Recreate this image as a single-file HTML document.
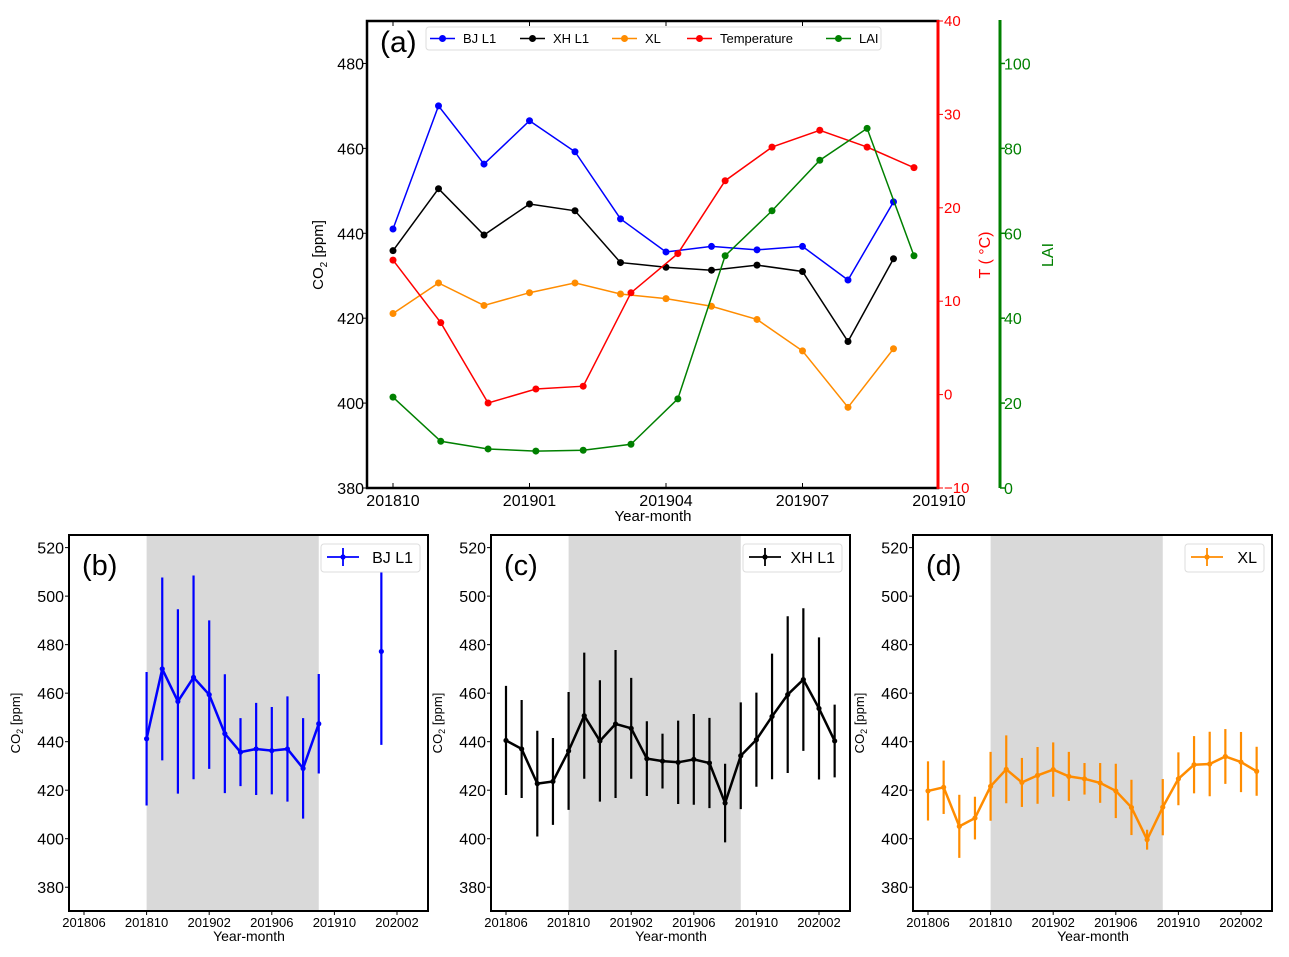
<!DOCTYPE html>
<html><head><meta charset="utf-8"><style>
html,body{margin:0;padding:0;background:#fff;}
svg{display:block;font-family:"Liberation Sans","DejaVu Sans",sans-serif;}
</style></head><body>
<svg id="chart" width="1289" height="957" viewBox="0 0 1289 957" xmlns="http://www.w3.org/2000/svg"></svg>
<script>
// ---- Panel (a) data ----
const aMonths = [0,1,2,3,4,5,6,7,8,9,10,11];
const aTickLabels = ["201810","201901","201904","201907","201910"];
const aTickMonths = [0,3,6,9,12];
const bjA = [441,470,456.3,466.5,459.2,443.4,435.6,436.9,436.1,436.9,429,447.4];
const xhA = [435.9,450.5,439.6,446.9,445.3,433.1,432,431.3,432.5,431,414.5,434];
const xlA = [421.1,428.3,423,426,428.3,425.7,424.6,422.8,419.7,412.3,399,412.8];
const envMonths = [0,1.05,2.09,3.14,4.18,5.23,6.26,7.3,8.33,9.38,10.42,11.45];
const tempA = [14.4,7.7,-0.9,0.6,0.9,10.9,15.1,22.9,26.5,28.3,26.5,24.3];
const laiA = [21.4,11,9.2,8.7,8.9,10.3,21,54.7,65.3,77.2,84.7,54.7];
const co2Ticks = [380,400,420,440,460,480];
const tTicks = [-10,0,10,20,30,40];
const laiTicks = [0,20,40,60,80,100];
// ---- Bottom panels data (months from 201806) ----
const bTickLabels = ["201806","201810","201902","201906","201910","202002"];
const bTickMonths = [0,4,8,12,16,20];
const bYTicks = [380,400,420,440,460,480,500,520];
const bjMonths = [4,5,6,7,8,9,10,11,12,13,14,15,19];
const bjVals = [441.2,470,456.6,466.5,459.4,443.3,435.7,437,436.3,437,429,447.4,477.2];
const bjErr = [27.5,37.7,38,42,30.6,24.5,14,19,18,21.7,20.7,20.5,38.5];
const fullMonths = [0,1,2,3,4,5,6,7,8,9,10,11,12,13,14,15,16,17,18,19,20,21];
const xhVals = [440.5,437,422.7,423.6,436.2,450.7,440.3,447.3,445.5,433,432,431.5,432.7,431.2,414.7,434.2,440.8,450.4,459.4,465.6,453.7,440.3];
const xhErr = [22.5,20.2,21.8,17.9,24.3,26,25,30.5,20.8,15.4,11.3,17.2,18.7,18.6,16.2,22,19.4,25.9,32.3,29.4,29.3,15];
const xlVals = [419.7,421.2,405.1,408.5,421.6,428.6,423.2,426.1,428.5,425.7,424.7,423,419.7,412.9,399.6,413,424.7,430.5,430.8,433.9,431.6,427.8];
const xlErr = [12.2,11,13,8.8,14.2,14,10.1,11.7,11.2,10.1,6.5,8.2,11.2,11.4,4.1,11.6,10.9,11.8,13.3,11.3,12.4,10.1];
const shadeRange = [4,15];

const NS="http://www.w3.org/2000/svg";
const svg=document.getElementById('chart');
function mk(tag,attrs,parent,text){const e=document.createElementNS(NS,tag);for(const k in attrs)e.setAttribute(k,attrs[k]);if(text!==undefined)e.textContent=text;(parent||svg).appendChild(e);return e;}

// ===== Panel (a) =====
const A={l:367,r:938,t:21,b:488};
const ax=m=>393+45.5*m;
const ayC=v=>A.b-(v-380)/110*(A.b-A.t);
const ayT=v=>A.b-(v+10)/50*(A.b-A.t);
const ayL=v=>A.b-v/110*(A.b-A.t);
const gA=mk('g',{});


aTickMonths.forEach((m,i)=>{
  const x=ax(m);
  mk('line',{x1:x,x2:x,y1:A.b,y2:A.b-5,stroke:'#000','stroke-width':1},gA);
  mk('line',{x1:x,x2:x,y1:A.t,y2:A.t+5,stroke:'#000','stroke-width':1},gA);
  const t=mk('text',{x:x,y:A.b+18,'font-size':16,'text-anchor':'middle'},gA,aTickLabels[i]);
  
  
});
co2Ticks.forEach(v=>{
  const y=ayC(v);
  mk('line',{x1:A.l,x2:A.l-5,y1:y,y2:y,stroke:'#000','stroke-width':1},gA);
  const t=mk('text',{x:A.l-3,y:y+6,'font-size':16,'text-anchor':'end'},gA,String(v));
  
  
});
tTicks.forEach(v=>{
  const y=ayT(v);
  mk('line',{x1:A.r,x2:A.r+5,y1:y,y2:y,stroke:'red','stroke-width':1},gA);
  const t=mk('text',{x:A.r+6,y:y+5,'font-size':15,fill:'red'},gA,v<0?'\u2212'+Math.abs(v):String(v));
  
  
});
laiTicks.forEach(v=>{
  const y=ayL(v);
  mk('line',{x1:1000,x2:1005,y1:y,y2:y,stroke:'green','stroke-width':1.5},gA);
  const t=mk('text',{x:1004,y:y+6,'font-size':16,fill:'green'},gA,String(v));
  
  
});
mk('line',{x1:1000,x2:1000,y1:A.t-1,y2:A.b,stroke:'green','stroke-width':3},gA);
mk('rect',{x:A.l,y:A.t,width:A.r-A.l,height:A.b-A.t,fill:'none',stroke:'#000','stroke-width':2.5},gA);
mk('line',{x1:A.r,x2:A.r,y1:A.t-1,y2:A.b+1,stroke:'red','stroke-width':3},gA);
function seriesA(xs,vals,yf,color,name){
  const g=mk('g',{},gA);
  
  
  mk('polyline',{points:xs.map((m,i)=>ax(m)+','+yf(vals[i])).join(' '),fill:'none',stroke:color,'stroke-width':1.5},g);
  xs.forEach((m,i)=>{const c=mk('circle',{cx:ax(m),cy:yf(vals[i]),r:3.5,fill:color},g);
    
    });
}
seriesA(aMonths,bjA,ayC,'#0000ff','bj-l1-series');
seriesA(aMonths,xhA,ayC,'#000000','xh-l1-series');
seriesA(aMonths,xlA,ayC,'#ff8c00','xl-series');
seriesA(envMonths,tempA,ayT,'#ff0000','temperature-series');
seriesA(envMonths,laiA,ayL,'#008000','lai-series');
let t;
t=mk('text',{x:380,y:52,'font-size':30},gA,'(a)');
t=mk('text',{x:653,y:521,'font-size':15,'text-anchor':'middle'},gA,'Year-month');
t=mk('text',{x:0,y:0,'font-size':15,'text-anchor':'middle',transform:'translate(323,255) rotate(-90)'},gA);
t.innerHTML='CO<tspan font-size="10" dy="4">2</tspan><tspan dy="-4"> [ppm]</tspan>';

t=mk('text',{x:0,y:0,'font-size':16,fill:'red','text-anchor':'middle',transform:'translate(990,255) rotate(-90)'},gA,'T ( \u00B0C)');

t=mk('text',{x:0,y:0,'font-size':16,fill:'green','text-anchor':'middle',transform:'translate(1053,255) rotate(-90)'},gA,'LAI');

const lg=mk('g',{},gA);


mk('rect',{x:426,y:27,width:455,height:23,rx:3,fill:'#fff',stroke:'#ddd','stroke-width':1},lg);
const legItems=[['BJ L1','#0000ff',430],['XH L1','#000',520],['XL','#ff8c00',612],['Temperature','#ff0000',687],['LAI','#008000',826]];
legItems.forEach(([lab,c,x])=>{
  const e=mk('g',{},lg);
  
  
  mk('line',{x1:x,x2:x+25,y1:38.5,y2:38.5,stroke:c,'stroke-width':1.5},e);
  mk('circle',{cx:x+12.5,cy:38.5,r:3.5,fill:c},e);
  mk('text',{x:x+33,y:43,'font-size':13},e,lab);
});

// ===== Bottom panels =====
function panel(left,key,label,months,vals,errs,color,legText){
  const P={l:left,r:left+359,t:535,b:911};
  const x=m=>P.l+15+m*15.65;
  const y=v=>P.t+(525.2-v)/155*(P.b-P.t);
  const g=mk('g',{});
  
  
  const sh=mk('rect',{x:x(shadeRange[0]),y:P.t,width:x(shadeRange[1])-x(shadeRange[0]),height:P.b-P.t,fill:'#d9d9d9'},g);
  
  
  bTickMonths.forEach((m,i)=>{
    mk('line',{x1:x(m),x2:x(m),y1:P.b,y2:P.b+4,stroke:'#000','stroke-width':1},g);
    const tt=mk('text',{x:x(m),y:P.b+16,'font-size':13,'text-anchor':'middle'},g,bTickLabels[i]);
    
    
  });
  bYTicks.forEach(v=>{
    mk('line',{x1:P.l,x2:P.l-4,y1:y(v),y2:y(v),stroke:'#000','stroke-width':1},g);
    const tt=mk('text',{x:P.l-5,y:y(v)+6,'font-size':16,'text-anchor':'end'},g,String(v));
    
    
  });
  months.forEach((m,i)=>{
    const e=mk('line',{x1:x(m),x2:x(m),y1:Math.max(P.t,y(vals[i]+errs[i])),y2:Math.min(P.b,y(vals[i]-errs[i])),stroke:color,'stroke-width':2.2},g);
    
    
  });
  let seg=[];
  const segs=[];
  months.forEach((m,i)=>{ if(i>0 && m-months[i-1]>1){segs.push(seg);seg=[];} seg.push(x(m)+','+y(vals[i])); });
  segs.push(seg);
  segs.forEach(s=>{ if(s.length>1){const pl=mk('polyline',{points:s.join(' '),fill:'none',stroke:color,'stroke-width':2.5},g);
    }});
  months.forEach((m,i)=>{const c=mk('circle',{cx:x(m),cy:y(vals[i]),r:2.6,fill:color},g);
    });
  mk('rect',{x:P.l,y:P.t,width:P.r-P.l,height:P.b-P.t,fill:'none',stroke:'#000','stroke-width':2},g);
  const pl=mk('text',{x:P.l+13,y:P.t+40,'font-size':29},g,label);
  
  const xt=mk('text',{x:P.l+180,y:941,'font-size':14,'text-anchor':'middle'},g,'Year-month');
  
  const yt=mk('text',{x:0,y:0,'font-size':13,'text-anchor':'middle',transform:'translate('+(P.l-49)+',723) rotate(-90)'},g);
  yt.innerHTML='CO<tspan font-size="9" dy="3">2</tspan><tspan dy="-3"> [ppm]</tspan>';
  
  const lw=legText.length>2?99:79;
  const lx=P.r-8-lw;
  const L=mk('g',{},g);
  
  
  mk('rect',{x:lx,y:544,width:lw,height:28,rx:3,fill:'#fff',stroke:'#ddd'},L);
  mk('line',{x1:lx+6,x2:lx+38,y1:557,y2:557,stroke:color,'stroke-width':1.8},L);
  mk('line',{x1:lx+22,x2:lx+22,y1:548,y2:566,stroke:color,'stroke-width':1.8},L);
  mk('circle',{cx:lx+22,cy:557,r:2.6,fill:color},L);
  mk('text',{x:lx+lw-7,y:563,'font-size':16,'text-anchor':'end'},L,legText);
}
panel(69,'b','(b)',bjMonths,bjVals,bjErr,'#0000ff','BJ L1');
panel(491,'c','(c)',fullMonths,xhVals,xhErr,'#000000','XH L1');
panel(913,'d','(d)',fullMonths,xlVals,xlErr,'#ff8c00','XL');
</script>
</body></html>
